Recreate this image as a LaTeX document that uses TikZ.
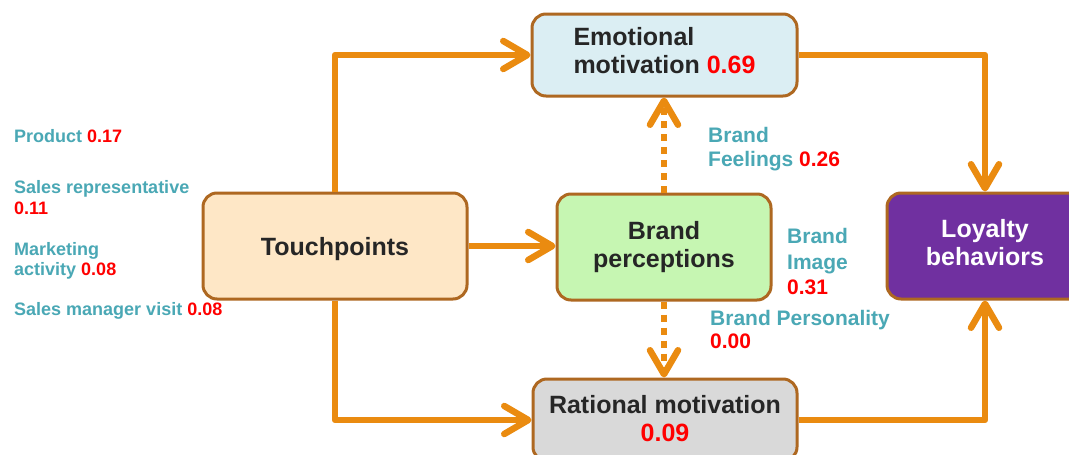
\documentclass[tikz,border=0pt]{standalone}
\usepackage{fontspec}
\setmainfont{Liberation Sans}
\usetikzlibrary{arrows.meta}

\definecolor{flowor}{HTML}{EA8B10}
\definecolor{edgebr}{HTML}{AE6821}
\definecolor{labteal}{HTML}{4AA8B5}
\definecolor{valred}{HTML}{FF0000}
\definecolor{inkdark}{HTML}{262626}
\definecolor{emofill}{HTML}{DBEEF3}
\definecolor{bpfill}{HTML}{C6F6B2}
\definecolor{ratfill}{HTML}{D9D9D9}
\definecolor{tpfill}{HTML}{FEE7C6}
\definecolor{loyfill}{HTML}{7030A0}

\tikzset{
  box/.style={rectangle, rounded corners=14pt, draw=edgebr, line width=3pt,
    inner sep=0pt, text=inkdark, align=center,
    font=\fontsize{25}{28}\selectfont\bfseries},
  flow/.style={draw=flowor, line width=6.5pt, line join=round,
    -{Straight Barb[length=24pt,width=28pt,round]}},
  dotflow/.style={flow, dash pattern=on 7pt off 6pt},
  side/.style={anchor=base west, inner sep=0pt, text=labteal,
    font=\fontsize{18}{21}\selectfont\bfseries},
  brandlab/.style={anchor=base west, inner sep=0pt, text=labteal,
    font=\fontsize{21}{25}\selectfont\bfseries}
}

\begin{document}
\begin{tikzpicture}[x=1pt,y=-1pt]
\useasboundingbox[fill=white] (0,0) rectangle (1069,455);

% boxes
\node[box, fill=emofill, align=left, text depth=9.5pt,
      minimum width=265pt, minimum height=82pt] (emo) at (664.5,55)
      {Emotional\\motivation \textcolor{valred}{0.69}};
\node[box, fill=bpfill, minimum width=214pt, minimum height=106pt]
      (bp) at (664,247) {Brand\\perceptions};
\node[box, fill=ratfill, text depth=4pt,
      minimum width=264pt, minimum height=82pt] (rat) at (665,420)
      {Rational motivation\\\textcolor{valred}{0.09}};
\node[box, fill=tpfill, text depth=0pt,
      minimum width=264pt, minimum height=106pt] (tp) at (335,246)
      {Touchpoints};
\node[box, fill=loyfill, text=white, text depth=8pt,
      minimum width=196pt, minimum height=106pt] (loy) at (985,246)
      {Loyalty\\behaviors};

% connectors
\draw[flow] (tp.north) |- (emo.west);
\draw[flow] (tp.south) |- (rat.west);
\draw[flow] (tp.east) -- (tp.east -| bp.west);
\draw[flow] (emo.east) -| (loy.north);
\draw[flow] (rat.east) -| (loy.south);
\draw[dotflow] (bp.north) -- (bp.north |- emo.south);
\draw[dotflow] (bp.south) -- (bp.south |- rat.north);

% touchpoint weights
\node[side] (lprod) at (14,142) {Product \textcolor{valred}{0.17}};
\node[side] (lrep1) at (14,193) {Sales representative};
\node[side] (lrep2) at (14,214) {\textcolor{valred}{0.11}};
\node[side] (lmkt1) at (14,255) {Marketing};
\node[side] (lmkt2) at (14,275) {activity \textcolor{valred}{0.08}};
\node[side] (lmgr) at (14,315) {Sales manager visit \textcolor{valred}{0.08}};

% brand perception weights
\node[brandlab] (bf1) at (708,142) {Brand};
\node[brandlab] (bf2) at (708,166) {Feelings \textcolor{valred}{0.26}};
\node[brandlab] (bi1) at (787,243) {Brand};
\node[brandlab] (bi2) at (787,269) {Image};
\node[brandlab] (bi3) at (787,294) {\textcolor{valred}{0.31}};
\node[brandlab] (bpe1) at (710,325) {Brand Personality};
\node[brandlab] (bpe2) at (710,348) {\textcolor{valred}{0.00}};
\end{tikzpicture}
\end{document}
